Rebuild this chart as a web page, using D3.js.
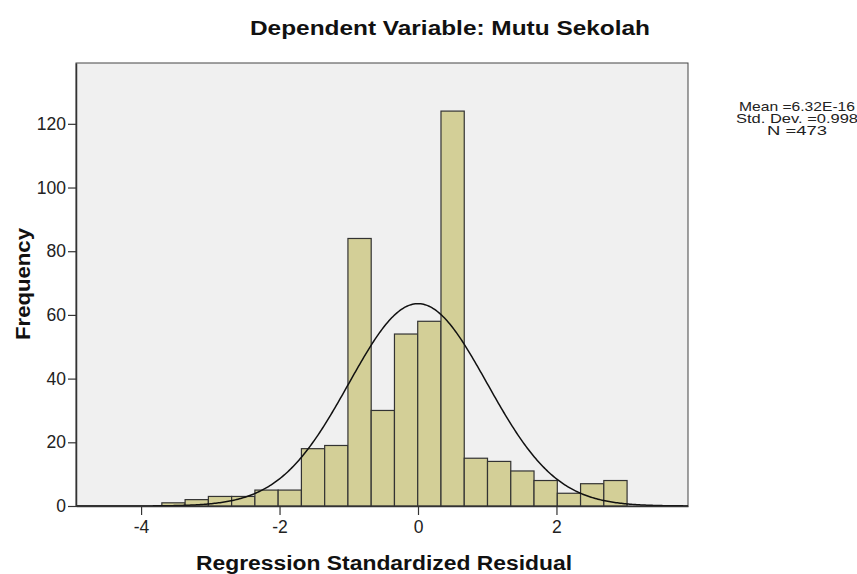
<!DOCTYPE html>
<html>
<meta charset="utf-8">
<script src="https://d3js.org/d3.v7.min.js"></script>
<head>
<style>
body { margin: 0; background: #fff; }
svg text { font-family: "Liberation Sans", Arial, sans-serif; }
</style>
</head>
<body>
<div id="chart"></div>
<script>
// histogram counts (sum = 473)
var counts = [1, 2, 3, 3, 5, 5, 18, 19, 84, 30, 54, 58, 124, 15, 14, 11, 8, 4, 7, 8];
var binStart = -3.70   // lower edge of first bin
var binWidth = 0.336
var xTicks = [-4, -2, 0, 2];
var yTicks = [0, 20, 40, 60, 80, 100, 120];
var stats = { mean: 6.32e-16, sd: 0.998, n: 473 };
var statLines = ["Mean =6.32E-16", "Std. Dev. =0.998", "N =473"];

var width = 857, height = 574;
var plotL = 76, plotR = 688, plotT = 63, plotB = 506;

var svg = d3.select("#chart").append("svg")
  .attr("width", width)
  .attr("height", height);

var x = d3.scaleLinear().domain([-4.94, 3.90]).range([plotL, plotR]);
var y = d3.scaleLinear().domain([0, 139.1]).range([plotB, plotT]);

// plot background
svg.append("rect")
  .attr("x", plotL).attr("y", plotT)
  .attr("width", plotR - plotL).attr("height", plotB - plotT)
  .attr("fill", "#f0f0f0")
  .attr("stroke", "#444").attr("stroke-width", 1);

// bars
svg.selectAll("rect.bar")
  .data(counts)
  .enter().append("rect")
  .attr("class", "bar")
  .attr("x", function(d, i) { return x(binStart + i * binWidth); })
  .attr("width", function(d, i) { return x(binStart + (i + 1) * binWidth) - x(binStart + i * binWidth); })
  .attr("y", function(d) { return y(d); })
  .attr("height", function(d) { return y(0) - y(d); })
  .attr("fill", "#d3cf97")
  .attr("stroke", "#333")
  .attr("stroke-width", 1.2);

// normal curve from the stats shown in the legend
var pts = d3.range(-4.94, 3.901, 0.02).map(function(v) {
  var z = (v - stats.mean) / stats.sd;
  var f = stats.n * binWidth * Math.exp(-0.5 * z * z) / (stats.sd * Math.sqrt(2 * Math.PI));
  return [v, f];
});
svg.append("path")
  .datum(pts)
  .attr("fill", "none")
  .attr("stroke", "#111")
  .attr("stroke-width", 1.5)
  .attr("d", d3.line().x(function(d) { return x(d[0]); }).y(function(d) { return y(d[1]); }));

// axes
var xAxis = svg.append("g")
  .attr("transform", "translate(0," + plotB + ")")
  .attr("font-size", 17.5)
  .call(d3.axisBottom(x).tickValues(xTicks).tickSize(9).tickSizeOuter(0).tickPadding(6));
var yAxis = svg.append("g")
  .attr("transform", "translate(" + plotL + ",0)")
  .attr("font-size", 17.5)
  .call(d3.axisLeft(y).tickValues(yTicks).tickSize(8).tickSizeOuter(0).tickPadding(2));
[xAxis, yAxis].forEach(function(g) {
  g.attr("font-size", 17.5).attr("font-family", "Liberation Sans, Arial, sans-serif");
  g.select(".domain").attr("stroke", "#333").attr("stroke-width", 1.5);
  g.selectAll(".tick line").attr("stroke", "#333").attr("stroke-width", 1.2);
  g.selectAll(".tick text").attr("fill", "#222");
});
xAxis.selectAll(".tick text").text(function(d) { return d < 0 ? "-" + Math.abs(d) : d; });

// title and axis labels (reference text is a bit wider than the font, so stretch to fit)
svg.append("text")
  .attr("x", 450).attr("y", 35)
  .attr("text-anchor", "middle")
  .style("font-size", "20px").style("font-weight", "bold")
  .attr("fill", "#111")
  .attr("textLength", 400).attr("lengthAdjust", "spacingAndGlyphs")
  .text("Dependent Variable: Mutu Sekolah");

svg.append("text")
  .attr("x", 384).attr("y", 570)
  .attr("text-anchor", "middle")
  .style("font-size", "20px").style("font-weight", "bold")
  .attr("fill", "#111")
  .attr("textLength", 376).attr("lengthAdjust", "spacingAndGlyphs")
  .text("Regression Standardized Residual");

svg.append("text")
  .attr("transform", "translate(30,284) rotate(-90)")
  .attr("text-anchor", "middle")
  .style("font-size", "20px").style("font-weight", "bold")
  .attr("fill", "#111")
  .attr("textLength", 112).attr("lengthAdjust", "spacingAndGlyphs")
  .text("Frequency");

// stats box text
var statLen = [116, 122, 60];
svg.selectAll("text.stat")
  .data(statLines)
  .enter().append("text")
  .attr("class", "stat")
  .attr("x", 797)
  .attr("y", function(d, i) { return 111 + i * 12; })
  .attr("text-anchor", "middle")
  .style("font-size", "13px")
  .attr("fill", "#222")
  .attr("textLength", function(d, i) { return statLen[i]; })
  .attr("lengthAdjust", "spacingAndGlyphs")
  .text(function(d) { return d; });
</script>
</body>
</html>
